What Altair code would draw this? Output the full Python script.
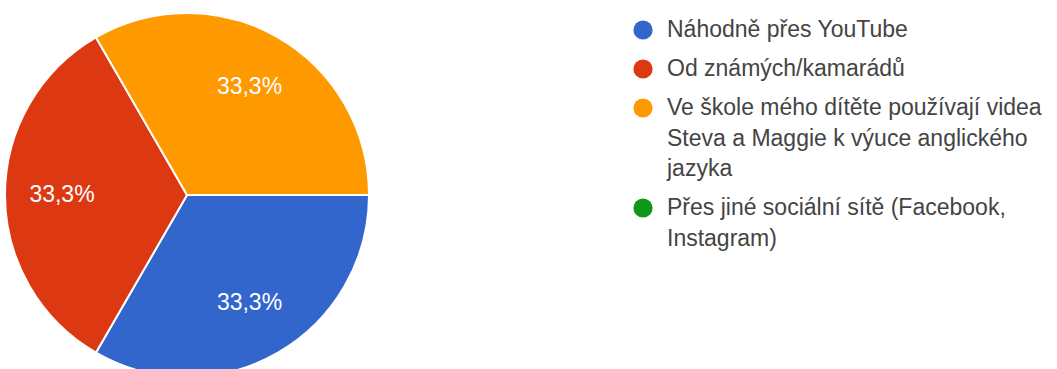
import altair as alt
import pandas as pd

# ---- data ----
categories = [
    "Náhodně přes YouTube",
    "Od známých/kamarádů",
    "Ve škole mého dítěte používají videa Steva a Maggie k výuce anglického jazyka",
    "Přes jiné sociální sítě (Facebook, Instagram)",
]
values = [1, 1, 1, 0]
colors = ["#3366CC", "#DC3912", "#FF9900", "#109618"]
legend_lines = [
    ["Náhodně přes YouTube"],
    ["Od známých/kamarádů"],
    ["Ve škole mého dítěte používají videa", "Steva a Maggie k výuce anglického", "jazyka"],
    ["Přes jiné sociální sítě (Facebook,", "Instagram)"],
]

FONT = "Liberation Sans"

pie_df = pd.DataFrame({"cat": categories, "value": values, "idx": list(range(len(categories)))})

rows = []
line_no = 0
for i, lines in enumerate(legend_lines):
    for j, t in enumerate(lines):
        rows.append({"cat": categories[i], "item": i, "line": line_no, "first": j == 0, "text": t})
        line_no += 1
leg_df = pd.DataFrame(rows)

color_scale = alt.Scale(domain=categories, range=colors)
theta_scale = alt.Scale(range=[1.5707963, 7.8539816])

CX, CY, R = 187, 195, 182

arcs = alt.Chart(pie_df).mark_arc(outerRadius=R, stroke="white", strokeWidth=2).encode(
    theta=alt.Theta("value:Q", stack=True, scale=theta_scale),
    color=alt.Color("cat:N", scale=color_scale, legend=None),
    order=alt.Order("idx:Q"),
    x=alt.value(CX),
    y=alt.value(CY),
)

labels = alt.Chart(pie_df).transform_joinaggregate(
    total="sum(value)"
).transform_calculate(
    label="replace(format(datum.value / datum.total * 100, '.1f'), '.', ',') + '%'"
).mark_text(radius=125, font=FONT, fontSize=23, color="white").encode(
    theta=alt.Theta("value:Q", stack=True, scale=theta_scale),
    order=alt.Order("idx:Q"),
    text=alt.Text("label:N"),
    x=alt.value(CX),
    y=alt.value(CY),
    opacity=alt.condition("datum.value > 0", alt.value(1), alt.value(0)),
)

leg_base = alt.Chart(leg_df).transform_calculate(
    ypos="30 + datum.line * 30.5 + datum.item * 8.5"
)
yenc = alt.Y("ypos:Q", scale=alt.Scale(domain=[0, 369], reverse=True), axis=None)

leg_pts = leg_base.transform_filter("datum.first").mark_point(
    filled=True, shape="circle", size=370, opacity=1
).encode(
    x=alt.value(643),
    y=yenc,
    color=alt.Color("cat:N", scale=color_scale, legend=None),
)

leg_txt = leg_base.mark_text(
    align="left", baseline="middle", font=FONT, fontSize=23, color="#444444"
).encode(
    x=alt.value(667),
    y=yenc,
    text="text:N",
)

chart = alt.layer(arcs, labels, leg_pts, leg_txt).properties(
    width=1057, height=369, padding=0, autosize="none"
).configure_view(stroke=None)

chart.save("out.html", embed_options={"renderer": "svg", "actions": False})
